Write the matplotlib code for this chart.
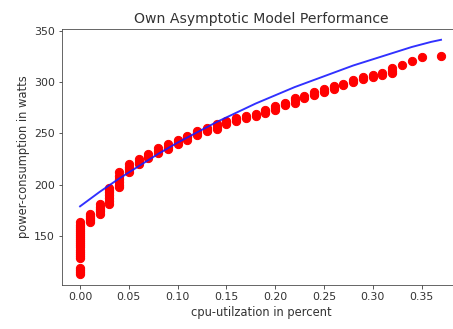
import numpy as np
import matplotlib
matplotlib.use("Agg")
import matplotlib.pyplot as plt

# cpu utilization levels and the power readings measured at each level
cpu_levels = [0.00, 0.01, 0.02, 0.03, 0.04, 0.05, 0.06, 0.07, 0.08, 0.09,
              0.10, 0.11, 0.12, 0.13, 0.14, 0.15, 0.16, 0.17, 0.18, 0.19,
              0.20, 0.21, 0.22, 0.23, 0.24, 0.25, 0.26, 0.27, 0.28, 0.29,
              0.30, 0.31, 0.32, 0.33, 0.34, 0.35, 0.37]
power_readings = [
    [113, 115, 117, 119, 129, 131, 133, 135, 137, 139, 141, 143, 145, 147,
     149, 151, 153, 155, 157, 159, 161, 164],
    [164, 166, 168, 170, 172],
    [172, 174, 176, 178, 181],
    [181, 184, 187, 190, 193, 195, 197],
    [198, 200, 203, 206, 209, 212],
    [212, 215, 217, 220],
    [220, 222, 225],
    [226, 228, 230],
    [231, 233, 236],
    [235, 237, 240],
    [240, 242, 244],
    [244, 246, 247],
    [248, 250, 252],
    [252, 253, 255],
    [254, 256, 259],
    [259, 261, 262],
    [262, 264, 265],
    [265, 267],
    [267, 269],
    [270, 272, 273],
    [273, 275, 277],
    [278, 279, 280],
    [280, 282, 284],
    [284, 286],
    [287, 288, 290],
    [290, 291, 293],
    [293, 295, 296],
    [297, 298],
    [300, 302],
    [303, 305],
    [305, 307],
    [307, 309],
    [309, 311, 314],
    [316],
    [320],
    [324],
    [325],
]

# model curve
model_x = [0.00, 0.02, 0.04, 0.06, 0.08, 0.10, 0.12, 0.14, 0.16, 0.18,
           0.20, 0.22, 0.24, 0.26, 0.28, 0.30, 0.32, 0.34, 0.36, 0.37]
model_y = [179, 193, 206, 218, 230, 241, 251, 261, 270, 279,
           287, 295, 302, 309, 316, 322, 328, 334, 339, 341]

x_ticks = [0.00, 0.05, 0.10, 0.15, 0.20, 0.25, 0.30, 0.35]
y_ticks = [150, 200, 250, 300, 350]

cpu = []
power = []
for level, readings in zip(cpu_levels, power_readings):
    cpu += [level] * len(readings)
    power += readings

text_color = "#333333"
plt.rcParams["text.color"] = text_color
plt.rcParams["axes.labelcolor"] = text_color
plt.rcParams["xtick.color"] = text_color
plt.rcParams["ytick.color"] = text_color
plt.rcParams["axes.edgecolor"] = "#444444"

fig = plt.figure(figsize=(453 / 72, 329 / 72), dpi=72)
# the right edge of the plot is cut off in the original picture
ax = fig.add_axes([62 / 453, 44 / 329, 420 / 453, 256 / 329])

ax.scatter(cpu, power, color="red", s=68, zorder=2)
ax.plot(model_x, model_y, color="#1a1aff", alpha=0.9, linewidth=1.9, zorder=3)

ax.set_xlim(-0.0185, 0.412)
ax.set_ylim(102.5, 351.5)
ax.set_xticks(x_ticks)
ax.set_xticklabels([f"{t:.2f}" for t in x_ticks])
ax.set_yticks(y_ticks)

# title and x label centred on the visible part of the plot
ax.set_title("Own Asymptotic Model Performance", fontsize=14, x=0.474)
ax.set_xlabel("cpu-utilzation in percent", fontsize=11.5, x=0.474)
ax.set_ylabel("power-consumption in watts", fontsize=11.5)
ax.tick_params(labelsize=11)

fig.savefig("out.png", dpi=72)
